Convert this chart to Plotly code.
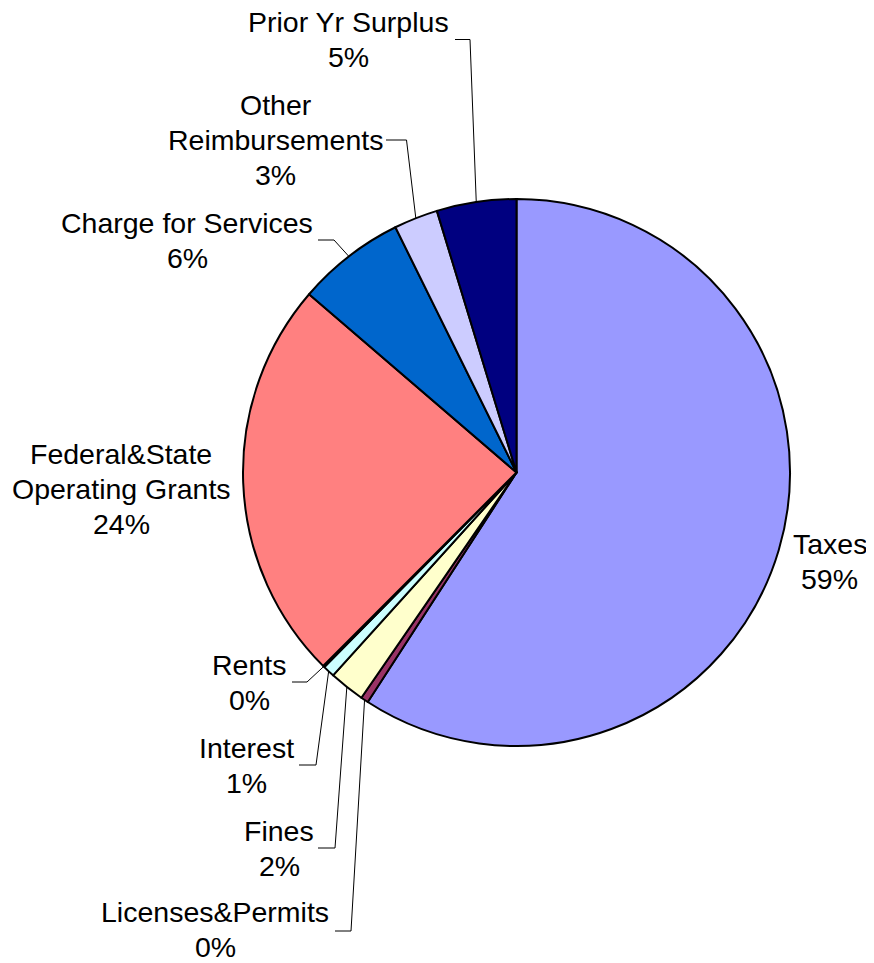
import math
import plotly.graph_objects as go

# ---- data ----
categories = ["Taxes", "Licenses&Permits", "Fines", "Interest", "Rents",
              "Federal&State Operating Grants", "Charge for Services",
              "Other Reimbursements", "Prior Yr Surplus"]
shares = [59.15, 0.45, 2.1, 0.7, 0.1, 23.8, 6.4, 2.6, 4.7]
label_lines = [["Taxes"], ["Licenses&Permits"], ["Fines"], ["Interest"], ["Rents"],
               ["Federal&State", "Operating Grants"], ["Charge for Services"],
               ["Other", "Reimbursements"], ["Prior Yr Surplus"]]
pct_text = ["59%", "0%", "2%", "1%", "0%", "24%", "6%", "3%", "5%"]
colors = ["#9999FF", "#993366", "#FFFFCC", "#CCFFFF", "#660066",
          "#FF8080", "#0066CC", "#CCCCFF", "#000080"]

# ---- layout (pixels in the browser window) ----
WIN_W, WIN_H = 874, 963
PAGE_MARGIN = 8          # default body margin of the html page
W, H = WIN_W - PAGE_MARGIN, WIN_H - PAGE_MARGIN
CX, CY, R = 516.5, 472.5, 273.5
LINE_GAP = 35
FONT = dict(family="Arial, Liberation Sans", size=28.5, color="#000000")
# label block centers
label_pos = {
    "Taxes": (829.5, 561),
    "Licenses&Permits": (215, 929),
    "Fines": (279, 848),
    "Interest": (246.5, 765),
    "Rents": (249, 682),
    "Federal&State Operating Grants": (121, 489),
    "Charge for Services": (187, 240),
    "Other Reimbursements": (275.5, 140),
    "Prior Yr Surplus": (348, 39.5),
}
# leader line elbow and end
leader = {
    "Licenses&Permits": ((351, 931), (335, 931)),
    "Fines": ((335, 848), (318, 848)),
    "Interest": ((316, 765), (299, 765)),
    "Rents": ((307, 682), (292, 682)),
    "Charge for Services": ((334, 240), (318, 240)),
    "Other Reimbursements": ((406.5, 140), (386, 140)),
    "Prior Yr Surplus": ((470, 39.5), (455, 39.5)),
}


def px(x):
    return (x - PAGE_MARGIN) / W


def py(y):
    return 1 - (y - PAGE_MARGIN) / H


fig = go.Figure(go.Pie(
    labels=categories, values=shares, sort=False, direction="clockwise",
    rotation=0, textinfo="none", showlegend=False,
    marker=dict(colors=colors, line=dict(color="#000000", width=2)),
    domain=dict(x=[px(CX - R), px(CX + R)], y=[py(CY + R), py(CY - R)]),
))

total = sum(shares)
cum = 0.0
annotations = []
shapes = []
for cat, v, lines, pt in zip(categories, shares, label_lines, pct_text):
    mid = (cum + v / 2) / total * 2 * math.pi
    cum += v
    ax = CX + R * math.sin(mid)
    ay = CY - R * math.cos(mid)
    lx, ly = label_pos[cat]
    all_lines = lines + [pt]
    n = len(all_lines)
    for i, t in enumerate(all_lines):
        yy = ly + (i - (n - 1) / 2) * LINE_GAP
        annotations.append(dict(
            x=px(lx), y=py(yy), xref="paper", yref="paper",
            text=t, showarrow=False, xanchor="center", yanchor="middle",
            align="center", font=FONT, borderpad=0,
        ))
    if cat in leader:
        (ex, ey), (tx, ty) = leader[cat]
        path = (f"M {px(ax)} {py(ay)} L {px(ex)} {py(ey)} "
                f"L {px(tx)} {py(ty)}")
        shapes.append(dict(type="path", xref="paper", yref="paper",
                           path=path, line=dict(color="#000000", width=1)))

fig.update_layout(
    width=W, height=H, margin=dict(l=0, r=0, t=0, b=0),
    paper_bgcolor="#FFFFFF", plot_bgcolor="#FFFFFF",
    annotations=annotations, shapes=shapes,
)

fig.write_html("out.html")
